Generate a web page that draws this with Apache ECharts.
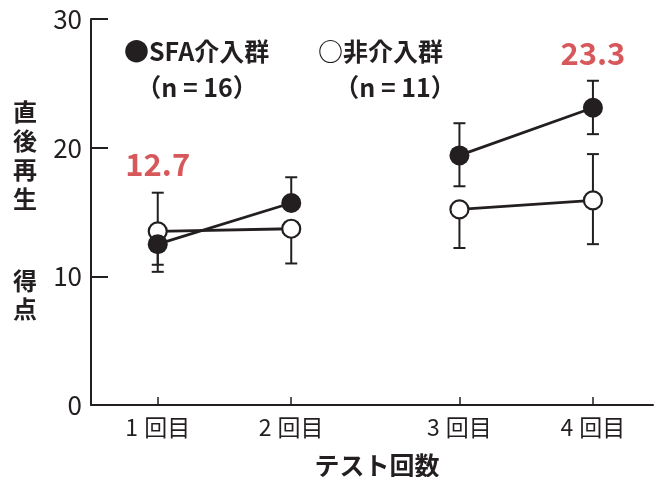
<!DOCTYPE html>
<html>
<head>
<meta charset="utf-8">
<script src="https://cdn.jsdelivr.net/npm/echarts@6/dist/echarts.min.js"></script>
<style>
html,body{margin:0;padding:0;background:#fff;}
#c{width:654px;height:477px;}
</style>
</head>
<body>
<div id="c"></div>
<script>
// ---- data ----
const categories = ['1回目', '2回目', '3回目', '4回目'];
const xPositions = [1, 2, 3.26, 4.26];
const yTicks = [0, 10, 20, 30];

const sfaMean  = [12.5, 15.7, 19.4, 23.1];
const sfaUpper = [null, 17.7, 21.9, 25.2];
const sfaLower = [10.9, null, 17.0, 21.05];

const ctrlMean  = [13.5, 13.7, 15.2, 15.9];
const ctrlUpper = [16.5, null, null, 19.5];
const ctrlLower = [10.35, 11.0, 12.2, 12.5];

const annotText = ['12.7', null, null, '23.3'];
const segments = [[0, 1], [2, 3]];

const legendSfa = '●SFA介入群';
const legendSfaN = '（n = 16）';
const legendCtrl = '○非介入群';
const legendCtrlN = '（n = 11）';
const yName1 = '直後再生';
const yName2 = '得点';
const xName = 'テスト回数';

// ---- chart ----
const INK = '#231f20';
const RED = '#cc2e31';
const FONT = '"Noto Sans CJK JP", "Noto Sans", sans-serif';

const chart = echarts.init(document.getElementById('c'), null, {renderer: 'canvas'});

function errData(mean, up, lo) {
  return xPositions.map((x, i) => [x, mean[i], up[i] == null ? '-' : up[i], lo[i] == null ? '-' : lo[i]]);
}
function errSeries(mean, up, lo) {
  return {
    type: 'custom',
    z: 1,
    silent: true,
    data: errData(mean, up, lo),
    encode: {x: 0, y: 1},
    renderItem: function (params, api) {
      const x = api.value(0), m = api.value(1), hi = api.value(2), lo2 = api.value(3);
      const pm = api.coord([x, m]);
      const hw = 6;
      const children = [];
      const st = {stroke: INK, lineWidth: 2};
      [hi, lo2].forEach(v => {
        if (v == null || isNaN(v)) return;
        const p = api.coord([x, v]);
        children.push({type: 'line', shape: {x1: pm[0], y1: pm[1], x2: p[0], y2: p[1]}, style: st});
        children.push({type: 'line', shape: {x1: p[0] - hw, y1: p[1], x2: p[0] + hw, y2: p[1]}, style: st});
      });
      return {type: 'group', children: children};
    }
  };
}
function lineSeries(mean, filled, z) {
  return segments.map(seg => ({
    type: 'line',
    z: z,
    silent: true,
    data: seg.map(i => [xPositions[i], mean[i]]),
    symbol: 'circle',
    symbolSize: filled ? 20 : 18,
    showAllSymbol: true,
    lineStyle: {color: INK, width: 2.8},
    itemStyle: filled ? {color: INK, borderColor: INK, borderWidth: 0} : {color: '#fff', borderColor: INK, borderWidth: 2.2},
    animation: false
  }));
}

const annotData = [];
annotText.forEach((t, i) => {
  if (t == null) return;
  const tops = [sfaUpper[i], ctrlUpper[i], sfaMean[i], ctrlMean[i]].filter(v => v != null);
  annotData.push({value: [xPositions[i], Math.max.apply(null, tops)], name: t});
});

const option = {
  animation: false,
  grid: {left: 91, right: 1, top: 19, bottom: 72, containLabel: false},
  xAxis: {
    type: 'value',
    min: 0.5, max: 4.71,
    axisLine: {lineStyle: {color: INK, width: 2}},
    axisTick: {show: true, inside: true, length: 8, customValues: xPositions, lineStyle: {color: INK, width: 1.5}},
    axisLabel: {
      customValues: xPositions,
      formatter: v => {
        const k = xPositions.findIndex(p => Math.abs(p - v) < 1e-6);
        if (k < 0) return '';
        const s = categories[k];
        return '{n|' + s.charAt(0) + '}{k|' + s.slice(1) + '}';
      },
      rich: {
        n: {color: INK, fontSize: 23, fontFamily: FONT, padding: [0, 6, 0, 0]},
        k: {color: INK, fontSize: 23, fontFamily: FONT}
      },
      color: INK, fontSize: 23, fontFamily: FONT, margin: 11
    },
    splitLine: {show: false}
  },
  yAxis: {
    type: 'value',
    min: yTicks[0], max: yTicks[yTicks.length - 1], interval: 10,
    axisLine: {show: true, lineStyle: {color: INK, width: 2}},
    axisTick: {show: true, inside: true, length: 17, lineStyle: {color: INK, width: 2}},
    axisLabel: {color: INK, fontSize: 26, fontFamily: FONT, margin: 9},
    splitLine: {show: false}
  },
  series: [
    errSeries(ctrlMean, ctrlUpper, ctrlLower),
    errSeries(sfaMean, sfaUpper, sfaLower),
    ...lineSeries(ctrlMean, false, 2),
    ...lineSeries(sfaMean, true, 3),
    {
      type: 'scatter', z: 4, silent: true,
      symbolSize: 0,
      data: annotData,
      label: {
        show: true, position: 'inside', offset: [0, -28],
        formatter: p => p.name,
        color: RED, fontSize: 31, fontWeight: 'bold', fontFamily: FONT
      }
    }
  ],
  graphic: [
    {type: 'text', style: {text: yName1.split('').join('\n'), x: 25, y: 155, align: 'center', verticalAlign: 'middle', lineHeight: 29, fill: INK, font: 'bold 24px ' + FONT}},
    {type: 'text', style: {text: yName2.split('').join('\n'), x: 25, y: 295, align: 'center', verticalAlign: 'middle', lineHeight: 28, fill: INK, font: 'bold 24px ' + FONT}},
    {type: 'text', style: {text: legendSfa, x: 124, y: 51, align: 'left', verticalAlign: 'middle', fill: INK, font: 'bold 25px ' + FONT}},
    {type: 'text', style: {text: legendSfaN, x: 197, y: 87, align: 'center', verticalAlign: 'middle', fill: INK, font: 'bold 25px ' + FONT}},
    {type: 'text', style: {text: legendCtrl, x: 318, y: 51, align: 'left', verticalAlign: 'middle', fill: INK, font: 'bold 25px ' + FONT}},
    {type: 'text', style: {text: legendCtrlN, x: 395, y: 87, align: 'center', verticalAlign: 'middle', fill: INK, font: 'bold 25px ' + FONT}},
    {type: 'text', style: {text: xName, x: 377, y: 465, align: 'center', verticalAlign: 'middle', fill: INK, font: 'bold 25px ' + FONT}}
  ]
};
chart.setOption(option);
</script>
</body>
</html>
